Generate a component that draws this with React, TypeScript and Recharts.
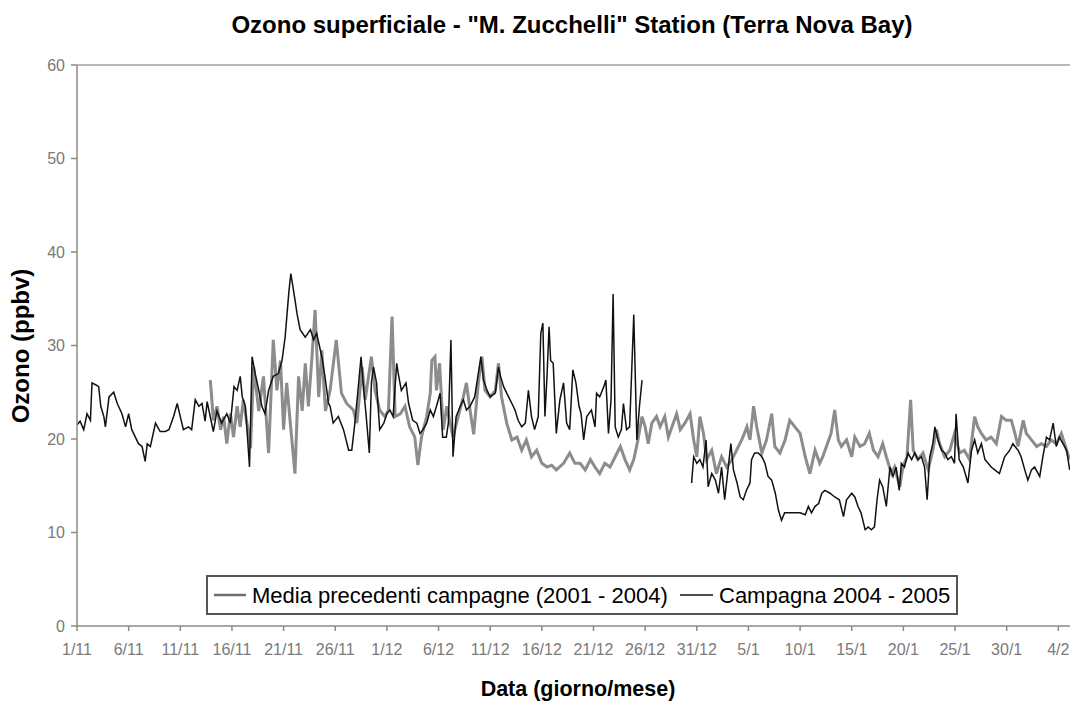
import { LineChart, Line, XAxis, YAxis, ReferenceLine } from 'recharts';

// x is days since 1 November; y is ozone in ppbv
const tickLabels = ['1/11', '6/11', '11/11', '16/11', '21/11', '26/11', '1/12', '6/12', '11/12', '16/12',
    '21/12', '26/12', '31/12', '5/1', '10/1', '15/1', '20/1', '25/1', '30/1', '4/2'];
const yTicks = [0, 10, 20, 30, 40, 50, 60];

// Media precedenti campagne (2001 - 2004)
const media: [number, number][] = [
    [12.9, 26.3], [13.0, 25.0], [13.2, 22.0], [13.55, 23.5], [13.9, 21.0], [14.2, 22.4], [14.5, 19.5],
    [14.85, 22.7], [15.15, 20.2], [15.5, 23.5], [15.8, 21.3], [16.1, 24.2], [16.45, 21.7], [16.8, 19.0],
    [17.1, 27.7], [17.6, 23.0], [18.05, 26.7], [18.55, 18.5], [19.0, 30.6], [19.35, 25.2], [19.7, 28.4],
    [20.0, 21.0], [20.3, 26.0], [20.65, 21.7], [21.1, 16.3], [21.45, 26.7], [21.8, 23.0], [22.1, 28.1],
    [22.4, 23.5], [22.75, 28.8], [23.05, 33.8], [23.4, 24.5], [23.7, 29.5], [24.05, 23.0], [24.5, 25.2],
    [25.1, 30.6], [25.6, 24.9], [26.1, 23.8], [26.75, 23.1], [27.1, 21.7], [27.6, 27.7], [27.9, 24.2],
    [28.5, 28.8], [28.85, 25.2], [29.3, 23.1], [29.8, 22.4], [30.15, 23.1], [30.5, 33.1], [30.8, 22.4],
    [31.3, 22.7], [31.75, 23.5], [32.2, 21.3], [32.7, 20.2], [33.0, 17.2], [33.35, 20.2], [33.85, 22.4],
    [34.2, 24.9], [34.35, 28.4], [34.65, 28.8], [34.8, 25.2], [35.1, 28.1], [35.45, 21.0], [35.8, 23.5],
    [36.4, 20.2], [36.9, 22.4], [37.4, 24.5], [37.7, 26.0], [38.05, 23.1], [38.4, 20.5], [38.85, 26.0],
    [39.2, 28.8], [39.5, 25.2], [40.0, 24.5], [40.5, 25.2], [40.8, 28.1], [41.1, 24.5], [41.6, 21.7],
    [42.1, 19.9], [42.6, 20.2], [43.05, 18.8], [43.5, 19.9], [44.0, 18.1], [44.5, 18.8], [45.0, 17.4],
    [45.5, 17.0], [45.95, 17.2], [46.4, 16.7], [47.1, 17.4], [47.7, 18.5], [48.2, 17.4], [48.7, 17.4],
    [49.2, 16.7], [49.7, 17.8], [50.15, 17.0], [50.6, 16.3], [51.1, 17.4], [51.6, 17.0], [52.1, 18.1],
    [52.6, 19.2], [53.05, 17.8], [53.5, 16.7], [53.9, 17.8], [54.3, 19.9], [54.7, 22.4], [55.0, 21.3],
    [55.3, 19.5], [55.65, 21.7], [56.1, 22.4], [56.45, 21.3], [56.9, 22.4], [57.25, 20.2], [57.6, 21.3],
    [58.05, 22.7], [58.4, 21.0], [58.85, 21.7], [59.35, 22.7], [59.7, 19.9], [60.0, 18.1], [60.3, 22.4],
    [60.65, 20.6], [60.95, 17.8], [61.45, 18.8], [61.9, 16.3], [62.4, 18.1], [62.9, 17.0], [63.4, 17.8],
    [63.85, 18.8], [64.35, 19.9], [64.85, 21.3], [65.15, 19.9], [65.5, 23.5], [65.8, 21.3], [66.3, 18.5],
    [66.75, 19.9], [67.25, 22.7], [67.55, 19.2], [68.05, 18.5], [68.55, 19.9], [69.0, 22.0], [69.5, 21.3],
    [70.0, 20.6], [70.5, 18.1], [70.95, 16.3], [71.45, 18.8], [71.9, 17.4], [72.2, 18.1], [72.55, 19.2],
    [73.0, 20.6], [73.35, 23.1], [73.7, 19.9], [74.0, 19.2], [74.5, 19.9], [75.0, 18.1], [75.3, 20.2],
    [75.8, 19.2], [76.25, 19.5], [76.7, 20.6], [77.1, 18.8], [77.55, 18.1], [78.0, 19.5], [78.35, 18.1],
    [78.85, 16.3], [79.15, 17.0], [79.65, 14.9], [79.95, 17.0], [80.35, 18.1], [80.7, 24.2], [80.95, 18.8],
    [81.4, 17.8], [81.9, 18.5], [82.4, 16.7], [82.85, 18.8], [83.2, 21.0], [83.5, 19.5], [84.0, 18.1],
    [84.5, 18.8], [84.95, 20.6], [85.45, 18.5], [85.9, 18.8], [86.4, 17.8], [86.9, 22.4], [87.2, 21.3],
    [87.55, 20.6], [88.0, 19.9], [88.5, 20.2], [89.0, 19.5], [89.5, 22.4], [89.95, 22.0], [90.45, 22.0],
    [90.8, 20.6], [91.1, 19.2], [91.6, 22.0], [91.9, 20.6], [92.4, 19.9], [92.9, 19.2], [93.35, 19.5],
    [93.85, 19.2], [94.3, 19.9], [94.8, 19.5], [95.3, 20.6], [95.8, 18.8], [96.1, 17.8],
];

// Campagna 2004 - 2005 (null = no data, end of December)
const campagna: [number, number | null][] = [
    [0.0, 21.5], [0.3, 21.9], [0.65, 21.0], [0.97, 22.7], [1.3, 22.0], [1.45, 26.0], [1.8, 25.8],
    [2.1, 25.6], [2.3, 23.5], [2.6, 22.4], [2.75, 21.3], [3.1, 24.5], [3.55, 25.0], [3.9, 23.8],
    [4.35, 22.7], [4.7, 21.3], [5.0, 22.7], [5.3, 21.0], [5.65, 20.2], [5.95, 19.5], [6.3, 19.2],
    [6.6, 17.6], [6.8, 19.5], [7.1, 19.2], [7.6, 21.7], [8.05, 20.8], [8.55, 20.8], [8.9, 21.0],
    [9.35, 22.4], [9.7, 23.8], [10.0, 22.4], [10.3, 21.0], [10.8, 21.3], [11.1, 21.0], [11.45, 24.2],
    [11.8, 23.5], [12.1, 23.8], [12.4, 21.9], [12.6, 24.0], [13.2, 20.8], [13.55, 23.0], [14.0, 21.7],
    [14.5, 22.7], [14.85, 21.7], [15.2, 25.6], [15.5, 25.2], [15.8, 26.7], [16.0, 24.5], [16.3, 23.5],
    [16.7, 17.0], [16.95, 28.8], [17.25, 27.0], [17.6, 25.2], [17.9, 23.5], [18.2, 22.7], [18.55, 25.2],
    [19.0, 26.7], [19.5, 27.0], [19.85, 28.4], [20.15, 30.9], [20.5, 35.6], [20.7, 37.7], [21.1, 34.9],
    [21.3, 33.4], [21.6, 31.7], [22.1, 30.9], [22.6, 31.7], [22.9, 30.6], [23.2, 31.3], [23.7, 28.8],
    [24.0, 26.7], [24.35, 23.8], [24.5, 23.5], [24.8, 21.7], [25.3, 22.4], [25.8, 21.0], [26.3, 18.8],
    [26.6, 18.8], [26.9, 21.7], [27.2, 25.2], [27.5, 28.8], [27.7, 26.0], [28.0, 22.4], [28.3, 18.5],
    [28.5, 26.0], [28.7, 27.7], [29.0, 26.0], [29.3, 21.0], [29.7, 21.7], [30.0, 22.7], [30.3, 23.1],
    [30.6, 22.4], [30.95, 28.1], [31.1, 27.0], [31.4, 25.2], [31.85, 26.0], [32.1, 23.8], [32.5, 22.0],
    [32.9, 21.7], [33.2, 20.6], [33.5, 21.0], [33.85, 21.7], [34.2, 23.1], [34.5, 22.4], [34.8, 23.5],
    [35.15, 24.9], [35.4, 20.2], [35.75, 20.2], [35.95, 21.7], [36.2, 30.6], [36.4, 18.1], [36.7, 22.4],
    [37.1, 23.5], [37.4, 24.2], [37.7, 23.1], [38.05, 23.5], [38.5, 24.5], [39.1, 28.8], [39.35, 26.3],
    [39.7, 25.2], [40.0, 24.5], [40.5, 24.9], [40.8, 27.7], [41.0, 26.7], [41.3, 25.6], [41.6, 24.9],
    [42.1, 23.8], [42.4, 23.1], [42.7, 22.0], [43.05, 21.3], [43.4, 21.7], [43.7, 25.2], [44.0, 22.4],
    [44.3, 21.0], [44.65, 22.4], [44.9, 31.3], [45.1, 32.4], [45.3, 22.4], [45.5, 26.7], [45.7, 32.0],
    [45.85, 28.4], [46.1, 28.1], [46.4, 20.6], [46.75, 24.2], [47.1, 26.0], [47.4, 21.7], [47.7, 21.0],
    [48.0, 27.4], [48.3, 26.0], [48.6, 23.5], [48.8, 22.7], [49.05, 19.9], [49.35, 22.4], [49.8, 23.1],
    [50.15, 21.3], [50.3, 24.9], [50.6, 24.5], [51.0, 25.6], [51.2, 26.3], [51.45, 20.6], [51.7, 24.2],
    [51.9, 35.5], [52.1, 21.3], [52.4, 20.2], [52.7, 21.0], [52.9, 23.8], [53.2, 21.0], [53.5, 21.3],
    [53.9, 33.3], [54.2, 19.9], [54.45, 23.5], [54.7, 26.3], [57.0, null], [59.5, 15.3], [59.7, 18.1],
    [60.0, 17.4], [60.3, 17.8], [60.6, 17.0], [60.9, 19.9], [61.1, 14.9], [61.45, 16.3], [61.8, 15.6],
    [62.1, 14.2], [62.4, 17.0], [62.7, 13.5], [63.05, 17.0], [63.3, 19.5], [63.55, 16.7], [63.9, 15.3],
    [64.2, 13.8], [64.5, 13.5], [64.8, 14.5], [65.15, 15.3], [65.3, 17.8], [65.6, 18.5], [65.95, 18.5],
    [66.3, 18.1], [66.6, 17.4], [66.9, 16.0], [67.25, 15.6], [67.6, 14.2], [67.9, 12.4], [68.2, 11.3],
    [68.5, 12.1], [69.0, 12.1], [69.5, 12.1], [70.0, 12.1], [70.5, 11.9], [70.8, 12.8], [71.1, 12.1],
    [71.45, 12.8], [71.8, 13.1], [72.1, 14.2], [72.4, 14.5], [72.9, 14.2], [73.35, 13.8], [73.8, 13.5],
    [74.2, 11.7], [74.5, 13.5], [75.0, 14.2], [75.3, 13.8], [75.6, 12.8], [75.9, 12.1], [76.3, 10.3],
    [76.6, 10.6], [76.9, 10.3], [77.2, 10.6], [77.45, 13.5], [77.7, 15.6], [78.0, 14.9], [78.35, 12.8],
    [78.7, 17.0], [79.0, 16.0], [79.3, 17.0], [79.6, 14.5], [79.8, 17.4], [80.1, 17.0], [80.45, 18.5],
    [80.8, 17.8], [81.1, 18.5], [81.4, 17.8], [81.75, 18.1], [82.05, 17.0], [82.3, 13.5], [82.55, 18.1],
    [82.85, 19.5], [83.05, 21.3], [83.35, 19.9], [83.7, 18.8], [84.0, 18.5], [84.3, 17.8], [84.65, 18.1],
    [84.95, 17.4], [85.1, 22.7], [85.4, 17.8], [85.8, 17.0], [86.25, 15.3], [86.6, 18.8], [86.9, 19.9],
    [87.2, 18.5], [87.55, 19.5], [87.9, 17.8], [88.2, 17.4], [88.5, 17.0], [88.85, 16.7], [89.3, 16.3],
    [89.8, 18.1], [90.3, 18.8], [90.6, 19.5], [91.1, 18.8], [91.4, 18.1], [91.75, 16.7], [92.05, 15.6],
    [92.4, 16.7], [92.7, 17.0], [93.2, 16.0], [93.5, 18.1], [93.85, 20.2], [94.15, 19.9], [94.5, 21.7],
    [94.8, 19.2], [95.1, 20.2], [95.45, 19.5], [95.8, 18.8], [96.1, 16.7],
];

const FONT = '"Liberation Sans", Arial, sans-serif';
const GREY = '#8c8c8c';
const AXIS = '#8a8a8a';

export default function App() {
    const mediaData = media.map(([day, ppbv]) => ({ day, ppbv }));
    const campData = campagna.map(([day, ppbv]) => ({ day, ppbv }));
    const tickDays = tickLabels.map((_, i) => i * 5);

    return (
        <div style={{ position: 'absolute', left: 0, top: 0, width: 1073, height: 702, background: '#fff', fontFamily: FONT }}>
            <LineChart width={1073} height={702} margin={{ top: 65, right: 3, left: 0, bottom: 36 }}>
                <XAxis
                    type="number"
                    dataKey="day"
                    domain={[0, 96.13]}
                    allowDataOverflow
                    ticks={tickDays}
                    tickFormatter={(d: number) => tickLabels[Math.round(d / 5)] ?? ''}
                    height={40}
                    stroke={AXIS}
                    strokeWidth={1.5}
                    tickSize={5}
                    tickMargin={13}
                    tick={{ fill: '#7a7a7a', fontSize: 16, fontFamily: FONT }}
                    interval={0}
                />
                <YAxis
                    type="number"
                    domain={[0, 60]}
                    ticks={yTicks}
                    width={77}
                    stroke={AXIS}
                    strokeWidth={1.5}
                    tickSize={6}
                    tickMargin={6}
                    tick={{ fill: '#7a7a7a', fontSize: 16, fontFamily: FONT }}
                    interval={0}
                />
                <ReferenceLine y={60} stroke="#a0a0a0" strokeWidth={1.5} />
                <Line
                    data={mediaData}
                    dataKey="ppbv"
                    type="linear"
                    stroke={GREY}
                    strokeWidth={3}
                    dot={false}
                    activeDot={false}
                    isAnimationActive={false}
                />
                <Line
                    data={campData}
                    dataKey="ppbv"
                    type="linear"
                    stroke="#111"
                    strokeWidth={1.5}
                    dot={false}
                    activeDot={false}
                    connectNulls={false}
                    isAnimationActive={false}
                />
            </LineChart>

            {/* title, axis titles and the boxed legend drawn over the chart */}
            <svg width={1073} height={702} style={{ position: 'absolute', left: 0, top: 0, pointerEvents: 'none' }}>
                <text x={572} y={33} textAnchor="middle" fontSize={24} fontWeight="bold" fontFamily={FONT} fill="#000">
                    Ozono superficiale - "M. Zucchelli" Station (Terra Nova Bay)
                </text>
                <text x={578} y={696} textAnchor="middle" fontSize={21.5} fontWeight="bold" fontFamily={FONT} fill="#000">
                    Data (giorno/mese)
                </text>
                <text x={29} y={346} textAnchor="middle" fontSize={24} fontWeight="bold" fontFamily={FONT} fill="#000"
                    transform="rotate(-90 29 346)">
                    Ozono (ppbv)
                </text>

                <rect x={207} y={576} width={750} height={38} fill="#fff" stroke="#555" strokeWidth={2} />
                <line x1={214} y1={595} x2={246} y2={595} stroke="#6e6e6e" strokeWidth={2.5} />
                <text x={252} y={603} fontSize={22} fontFamily={FONT} fill="#000">
                    Media precedenti campagne (2001 - 2004)
                </text>
                <line x1={680} y1={595} x2={713} y2={595} stroke="#111" strokeWidth={1.3} />
                <text x={719} y={603} fontSize={22} fontFamily={FONT} fill="#000">
                    Campagna 2004 - 2005
                </text>
            </svg>
        </div>
    );
}
